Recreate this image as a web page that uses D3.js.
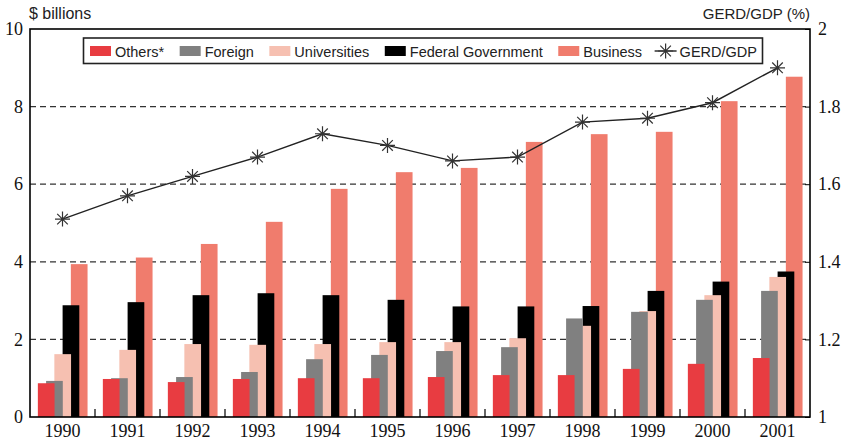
<!DOCTYPE html>
<html>
<head>
<meta charset="utf-8">
<script src="https://cdn.jsdelivr.net/npm/d3@7"></script>
<style>
  body { margin: 0; background: #fff; }
  .tick-label { font-family: "Liberation Serif", "Times New Roman", serif; font-size: 18px; fill: #111; }
  .sans { font-family: "Liberation Sans", Arial, sans-serif; fill: #222; }
</style>
</head>
<body>
<div id="chart"></div>
<script>
// data
var years = ['1990', '1991', '1992', '1993', '1994', '1995', '1996', '1997', '1998', '1999', '2000', '2001'];
var seriesNames = ['Others*', 'Foreign', 'Universities', 'Federal Government', 'Business'];
var seriesColors = ['#e83c41', '#808080', '#f6c0b1', '#000000', '#f07c6d'];
var others = [0.87, 0.98, 0.90, 0.98, 1.00, 1.00, 1.03, 1.08, 1.08, 1.24, 1.37, 1.52];
var foreign = [0.93, 1.00, 1.03, 1.16, 1.49, 1.60, 1.70, 1.80, 2.54, 2.71, 3.02, 3.25];
var universities = [1.62, 1.73, 1.88, 1.86, 1.88, 1.93, 1.93, 2.03, 2.35, 2.73, 3.14, 3.61];
var federal = [2.88, 2.96, 3.14, 3.19, 3.14, 3.02, 2.85, 2.85, 2.86, 3.25, 3.49, 3.75];
var business = [3.94, 4.11, 4.46, 5.03, 5.88, 6.31, 6.42, 7.09, 7.29, 7.35, 8.14, 8.77];
var gerdGdp = [1.51, 1.57, 1.62, 1.67, 1.73, 1.70, 1.66, 1.67, 1.76, 1.77, 1.81, 1.90];
var leftTicks = [0, 2, 4, 6, 8, 10];
var rightTicks = [1, 1.2, 1.4, 1.6, 1.8, 2];

var seriesValues = [others, foreign, universities, federal, business];

var width = 843, height = 441;
var plot = {left: 30, right: 810, top: 29, bottom: 417};

var svg = d3.select('#chart').append('svg')
  .attr('width', width)
  .attr('height', height);

var x = d3.scaleBand().domain(years).range([plot.left, plot.right]).padding(0);
var sub = d3.scalePoint().domain(seriesNames).range([-16.3, 16.7]);
var barW = 16.7;
var y = d3.scaleLinear().domain([0, 10]).range([plot.bottom, plot.top]);
var y2 = d3.scaleLinear().domain([1, 2]).range([plot.bottom, plot.top]);

// gridlines
svg.append('g').selectAll('line')
  .data(leftTicks.filter(function(d) { return d > 0 && d < 10; }))
  .enter().append('line')
  .attr('x1', plot.left).attr('x2', plot.right)
  .attr('y1', function(d) { return y(d); })
  .attr('y2', function(d) { return y(d); })
  .attr('stroke', '#333')
  .attr('stroke-width', 1.2)
  .attr('stroke-dasharray', '6,4');

// bars: draw right-most series first so the left bar overlaps the next one
var barLayer = svg.append('g');
for (var s = seriesNames.length - 1; s >= 0; s--) {
  var name = seriesNames[s];
  barLayer.append('g').selectAll('rect')
    .data(seriesValues[s].map(function(v, i) { return {year: years[i], value: v}; }))
    .enter().append('rect')
    .attr('x', function(d) { return x(d.year) + x.bandwidth() / 2 + sub(name) - barW / 2; })
    .attr('y', function(d) { return y(d.value); })
    .attr('width', barW)
    .attr('height', function(d) { return y(0) - y(d.value); })
    .attr('fill', seriesColors[s]);
}

// frame
svg.append('rect')
  .attr('x', plot.left).attr('y', plot.top)
  .attr('width', plot.right - plot.left)
  .attr('height', plot.bottom - plot.top)
  .attr('fill', 'none')
  .attr('stroke', '#000')
  .attr('stroke-width', 1.6);

// bottom axis
var xAxis = svg.append('g')
  .attr('transform', 'translate(0,' + plot.bottom + ')')
  .call(d3.axisBottom(x).tickSize(0).tickPadding(7));
xAxis.select('.domain').remove();
xAxis.selectAll('text').attr('class', 'tick-label').attr('font-family', null).attr('font-size', null);

// inward separator ticks between groups
svg.append('g').selectAll('line')
  .data(years.slice(1))
  .enter().append('line')
  .attr('x1', function(d) { return x(d); })
  .attr('x2', function(d) { return x(d); })
  .attr('y1', plot.bottom)
  .attr('y2', plot.bottom - 8)
  .attr('stroke', '#000')
  .attr('stroke-width', 1.2);

// left axis
var yAxis = svg.append('g')
  .attr('transform', 'translate(' + plot.left + ',0)')
  .call(d3.axisLeft(y).tickValues(leftTicks).tickSize(0).tickPadding(7));
yAxis.select('.domain').remove();
yAxis.selectAll('text').attr('class', 'tick-label').attr('font-family', null).attr('font-size', null);

// right axis
var y2Axis = svg.append('g')
  .attr('transform', 'translate(' + plot.right + ',0)')
  .call(d3.axisRight(y2).tickValues(rightTicks).tickSize(-5).tickPadding(8).tickFormat(d3.format('')));
y2Axis.select('.domain').remove();
y2Axis.selectAll('line').attr('stroke', '#000');
y2Axis.selectAll('text').attr('class', 'tick-label').attr('font-family', null).attr('font-size', null);

// axis titles
svg.append('text')
  .attr('class', 'sans')
  .attr('x', 29).attr('y', 19)
  .attr('font-size', 16)
  .text('$ billions');
svg.append('text')
  .attr('class', 'sans')
  .attr('x', plot.right).attr('y', 19)
  .attr('text-anchor', 'end')
  .attr('font-size', 15)
  .text('GERD/GDP (%)');

// star marker path
function starPath(r) {
  var d = r * Math.SQRT1_2;
  return 'M' + (-r) + ',0L' + r + ',0M0,' + (-r) + 'L0,' + r +
    'M' + (-d) + ',' + (-d) + 'L' + d + ',' + d + 'M' + (-d) + ',' + d + 'L' + d + ',' + (-d);
}

// GERD/GDP line
var line = d3.line()
  .x(function(d, i) { return x(years[i]) + x.bandwidth() / 2; })
  .y(function(d) { return y2(d); });
svg.append('path')
  .datum(gerdGdp)
  .attr('d', line)
  .attr('fill', 'none')
  .attr('stroke', '#222')
  .attr('stroke-width', 1.4);
svg.append('g').selectAll('path')
  .data(gerdGdp)
  .enter().append('path')
  .attr('transform', function(d, i) { return 'translate(' + (x(years[i]) + x.bandwidth() / 2) + ',' + y2(d) + ')'; })
  .attr('d', starPath(7.5))
  .attr('stroke', '#333')
  .attr('stroke-width', 1.2)
  .attr('fill', 'none');

// legend
var legend = svg.append('g');
legend.append('rect')
  .attr('x', 83.5).attr('y', 38)
  .attr('width', 679).attr('height', 25.5)
  .attr('fill', '#fff')
  .attr('stroke', '#222')
  .attr('stroke-width', 1.6);
var lx = 90;
seriesNames.forEach(function(name, i) {
  legend.append('rect')
    .attr('x', lx).attr('y', 46)
    .attr('width', 21).attr('height', 10)
    .attr('fill', seriesColors[i]);
  var t = legend.append('text')
    .attr('class', 'sans')
    .attr('x', lx + 25).attr('y', 56.5)
    .attr('font-size', 14.5)
    .text(name);
  lx += 25 + t.node().getComputedTextLength() + 15.5;
});
legend.append('line')
  .attr('x1', lx - 3).attr('x2', lx + 19)
  .attr('y1', 51).attr('y2', 51)
  .attr('stroke', '#222').attr('stroke-width', 1.4);
legend.append('path')
  .attr('transform', 'translate(' + (lx + 8) + ',51)')
  .attr('d', starPath(7.5))
  .attr('stroke', '#333').attr('stroke-width', 1.2).attr('fill', 'none');
legend.append('text')
  .attr('class', 'sans')
  .attr('x', lx + 22).attr('y', 56.5)
  .attr('font-size', 14.5)
  .text('GERD/GDP');
</script>
</body>
</html>
